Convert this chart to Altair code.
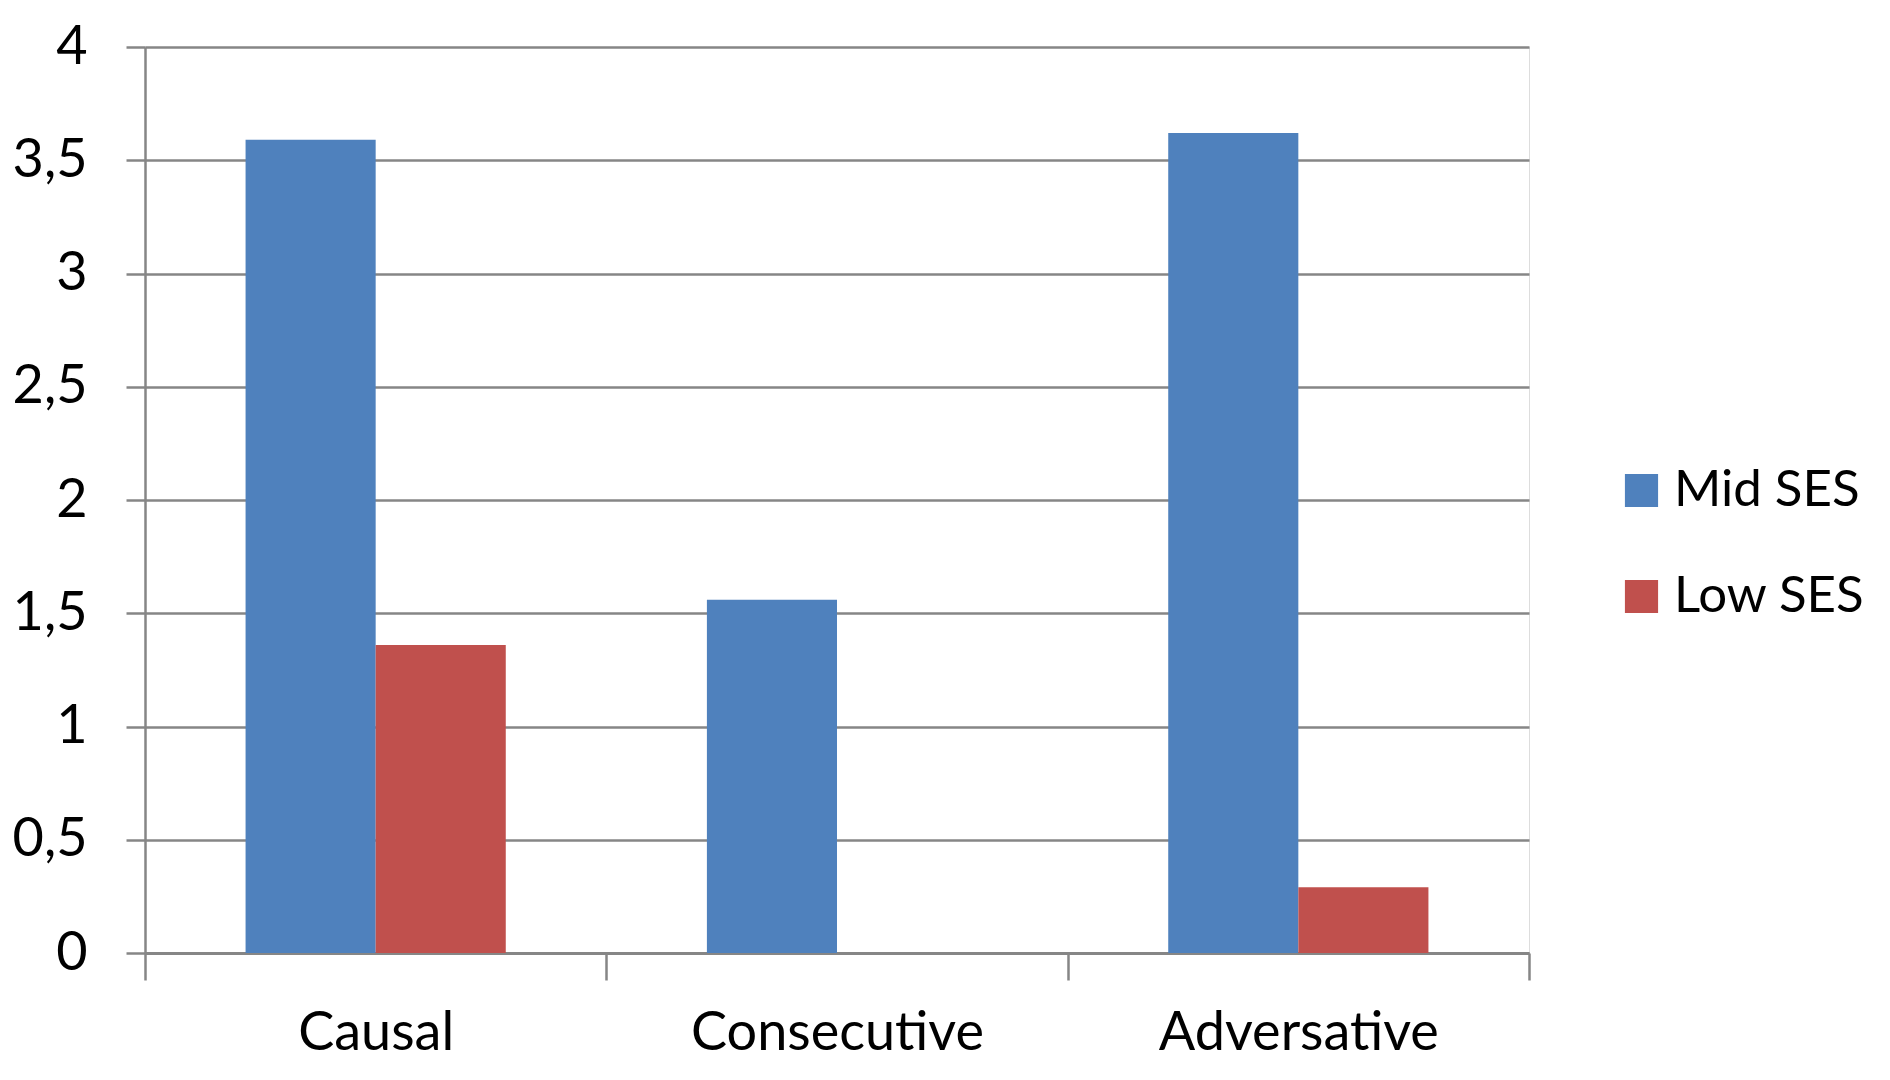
import altair as alt
import pandas as pd

categories = ["Causal", "Consecutive", "Adversative"]
series = ["Mid SES", "Low SES"]
mid_ses = [3.59, 1.56, 3.62]
low_ses = [1.36, 0.0, 0.29]
y_ticks = [0, 0.5, 1, 1.5, 2, 2.5, 3, 3.5, 4]
colors = ["#4F81BD", "#C0504D"]

rows = []
for c, m, l in zip(categories, mid_ses, low_ses):
    rows.append({"category": c, "series": series[0], "value": m})
    rows.append({"category": c, "series": series[1], "value": l})
df = pd.DataFrame(rows)

FONT = "Lato"
GRID = "#868686"

chart = alt.Chart(df).mark_bar().encode(
    x=alt.X("category:N", sort=categories,
            scale=alt.Scale(paddingInner=0, paddingOuter=0),
            axis=alt.Axis(title=None, labelAngle=0, tickBand="extent", tickSize=27,
                          tickColor=GRID, tickWidth=2.5, domainColor=GRID, domainWidth=3,
                          labelPadding=26, labelFont=FONT, labelFontSize=54,
                          labelColor="black", labelLimit=0, grid=False)),
    xOffset=alt.XOffset("series:N", sort=series,
                        scale=alt.Scale(paddingInner=0, paddingOuter=0.773)),
    y=alt.Y("value:Q", scale=alt.Scale(domain=[0, 4], nice=False),
            axis=alt.Axis(title=None, values=y_ticks,
                          labelExpr="replace(format(datum.value, '~g'), '.', ',')",
                          grid=True, gridColor=GRID, gridWidth=2.5,
                          domainColor=GRID, domainWidth=2.5,
                          tickColor=GRID, tickWidth=2.5, tickSize=19,
                          labelPadding=39, labelFont=FONT, labelFontSize=54,
                          labelColor="black")),
    color=alt.Color("series:N", sort=series,
                    scale=alt.Scale(domain=series, range=colors),
                    legend=alt.Legend(title=None, orient="none", legendX=1471, legendY=418,
                                      symbolType="square", symbolSize=1100,
                                      symbolStrokeWidth=0, labelFont=FONT,
                                      labelFontSize=51, labelColor="black", labelLimit=0,
                                      rowPadding=54, labelOffset=7, padding=0)),
).properties(
    width=1384, height=906,
    autosize="none",
    padding={"left": 137, "top": 39, "right": 353, "bottom": 119},
).configure_view(stroke=None).configure(background="white")

chart.save("out.html", embed_options={"renderer": "svg", "actions": False})
